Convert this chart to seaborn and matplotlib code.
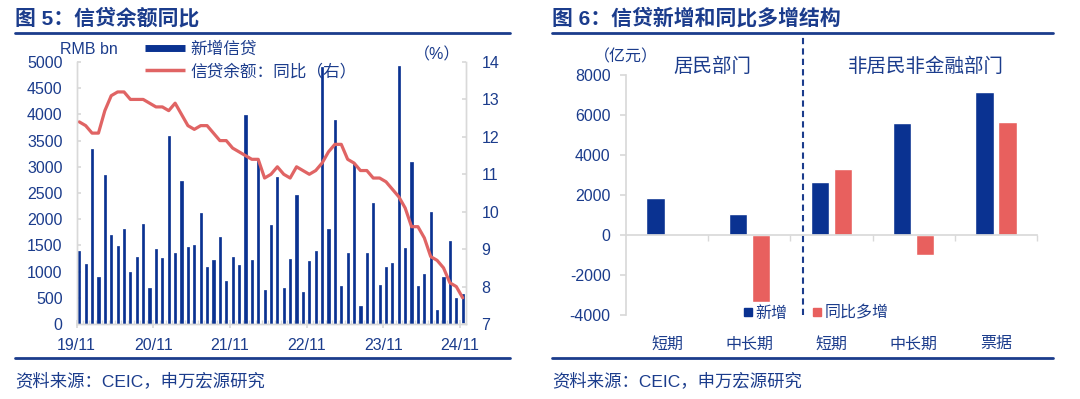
import numpy as np
import pandas as pd
import seaborn as sns
import matplotlib.pyplot as plt
from matplotlib.lines import Line2D

# style first, fonts after (set_theme resets font.family)
sns.set_theme(style="white")
plt.rcParams['font.family'] = ['Liberation Sans', 'Noto Sans CJK SC']
plt.rcParams['axes.unicode_minus'] = False

NAVY = '#0A3291'
RED = '#E8605E'
LINE_RED = '#E06464'
TXT = '#1B3C8C'
GREY = '#D9D9D9'

# ======================
# data - fig 5: monthly new loans (RMB bn) and loan balance yoy (%), 19/11 - 24/11

new_loans = [1390, 1140,
             3340, 905, 2850, 1700, 1480, 1810, 992, 1280, 1900, 689, 1430, 1260,
             3580, 1360, 2730, 1470, 1500, 2120, 1080, 1220, 1660, 826, 1270, 1130,
             3980, 1230, 3130, 645, 1890, 2810, 679, 1250, 2470, 615, 1210, 1400,
             4900, 1810, 3890, 719, 1360, 3050, 346, 1360, 2310, 738, 1090, 1170,
             4920, 1450, 3090, 730, 950, 2130, 260, 900, 1590, 500, 580]

loan_growth = [12.4, 12.3,
               12.1, 12.1, 12.7, 13.1, 13.2, 13.2, 13.0, 13.0, 13.0, 12.9, 12.8, 12.8,
               12.7, 12.9, 12.6, 12.3, 12.2, 12.3, 12.3, 12.1, 11.9, 11.9, 11.7, 11.6,
               11.5, 11.4, 11.4, 10.9, 11.0, 11.2, 11.0, 10.9, 11.2, 11.1, 11.0, 11.1,
               11.3, 11.6, 11.8, 11.8, 11.4, 11.3, 11.1, 11.1, 10.9, 10.9, 10.8, 10.6,
               10.4, 10.1, 9.6, 9.6, 9.3, 8.8, 8.7, 8.5, 8.1, 8.0, 7.7]

year_labels = ['19/11', '20/11', '21/11', '22/11', '23/11', '24/11']

# data - fig 6: new loans and yoy change by sector (100mn yuan)
sectors = ['居民部门', '居民部门', '非居民非金融部门', '非居民非金融部门', '非居民非金融部门']
loan_types = ['短期', '中长期', '短期', '中长期', '票据']
new_add = [1850, 1030, 2650, 5580, 7150]
yoy_more = [np.nan, -3350, 3300, -1000, 5630]
series_names = ['新增', '同比多增']

# ======================
W, H = 1080, 399
fig = plt.figure(figsize=(W / 100, H / 100), dpi=100)
fig.patch.set_facecolor('white')


def px_rect(x0, x1, ytop, ybot):
    return [x0 / W, 1 - ybot / H, (x1 - x0) / W, (ybot - ytop) / H]


def fx(x):
    return x / W


def fy(y):
    return 1 - y / H


# --- left chart
df5 = pd.DataFrame({'m': np.arange(len(new_loans)), 'loans': new_loans,
                    'growth': loan_growth})

ax1 = fig.add_axes(px_rect(76.6, 466, 62, 324))
sns.barplot(data=df5, x='m', y='loans', native_scale=True, width=0.34,
            color=NAVY, saturation=1, errorbar=None, edgecolor=NAVY,
            linewidth=0.5, ax=ax1)
ax1.set_xlim(-0.42, 60.52)
ax1.set_ylim(0, 5000)
ax1.set_yticks(range(0, 5001, 500))
ax1.set_xticks(np.arange(0, 61, 12) - 0.42, labels=year_labels)
ax1.set_xticks(np.arange(0, 61) - 0.42, minor=True)
ax1.set_xlabel('')
ax1.set_ylabel('')
ax1.tick_params(axis='y', left=True, direction='in', length=3, color=GREY,
                labelcolor=TXT, labelsize=11.5, pad=10)
ax1.tick_params(axis='x', which='major', bottom=True, direction='inout', length=6,
                color=GREY, labelcolor=TXT, labelsize=11.5, pad=7)
ax1.tick_params(axis='x', which='minor', bottom=True, direction='in', length=3,
                color=GREY)

ax2 = ax1.twinx()
sns.lineplot(data=df5, x='m', y='growth', color=LINE_RED, lw=2.3, ax=ax2)
ax2.set_ylim(7, 14)
ax2.set_yticks(range(7, 15))
ax2.set_ylabel('')
ax2.tick_params(axis='y', right=True, direction='in', length=3, color=GREY,
                labelcolor=TXT, labelsize=11.5, pad=11)

for a in (ax1, ax2):
    a.spines['top'].set_visible(False)
    for s in ('left', 'right', 'bottom'):
        a.spines[s].set_color(GREY)
        a.spines[s].set_linewidth(1)

fig.text(fx(60), fy(50), 'RMB bn', color=TXT, fontsize=11.5, va='center')
fig.text(fx(437), fy(55), '（%）', color=TXT, fontsize=11.5, va='center', ha='center')

fig.legend(handles=[Line2D([], [], color=NAVY, lw=5, solid_capstyle='butt'),
                    Line2D([], [], color=LINE_RED, lw=2.5, solid_capstyle='butt')],
           labels=['新增信贷', '信贷余额：同比（右）'],
           loc='upper left', bbox_to_anchor=(fx(145), fy(41)), frameon=False,
           fontsize=12, handlelength=2.4, handletextpad=0.3, labelspacing=0.4,
           borderpad=0, borderaxespad=0, labelcolor=TXT)

# --- right chart
keys = [s + t for s, t in zip(sectors, loan_types)]
df6 = pd.DataFrame({'key': keys * 2,
                    'series': [series_names[0]] * 5 + [series_names[1]] * 5,
                    'value': new_add + yoy_more}).dropna()

ax3 = fig.add_axes(px_rect(626, 1037, 75, 315))
sns.barplot(data=df6, x='key', y='value', hue='series', order=keys,
            hue_order=series_names, palette=[NAVY, RED], width=0.56, gap=0.2,
            saturation=1, errorbar=None, legend=False, ax=ax3)
ax3.set_xlim(-0.5, 4.5)
ax3.set_ylim(-4000, 8000)
ax3.set_yticks(range(-4000, 8001, 2000))
ax3.set_xticks(range(len(keys)), labels=loan_types)
ax3.set_xticks(np.arange(0.5, 5, 1), minor=True)
ax3.set_xlabel('')
ax3.set_ylabel('')
for s in ('top', 'right'):
    ax3.spines[s].set_visible(False)
ax3.spines['left'].set_color(GREY)
ax3.spines['bottom'].set_color(GREY)
ax3.spines['bottom'].set_position(('data', 0))
ax3.tick_params(axis='y', left=True, direction='out', length=4, color=GREY,
                labelcolor=TXT, labelsize=11.5, pad=7)
ax3.tick_params(axis='x', which='major', bottom=True, length=0,
                labelcolor=TXT, labelsize=11.5, pad=73)
ax3.tick_params(axis='x', which='minor', bottom=True, direction='out', length=4,
                color=GREY)

# separator between household and corporate groups
ax3.axvline(1.65, ymin=0, ymax=(315 - 35) / 240, color=TXT, lw=1.5,
            ls=(0, (3, 2)), clip_on=False)
ax3.text(0.55, 8420, '居民部门', color=TXT, fontsize=14, ha='center', va='center')
ax3.text(3.15, 8420, '非居民非金融部门', color=TXT, fontsize=14, ha='center', va='center')
ax3.text(0.0, 8900, '（亿元）', color=TXT, fontsize=11.5, ha='center', va='center',
         transform=ax3.get_yaxis_transform())

fig.legend(handles=[Line2D([], [], color=NAVY, marker='s', ls='none', markersize=6),
                    Line2D([], [], color=RED, marker='s', ls='none', markersize=6)],
           labels=series_names, loc='center left', bbox_to_anchor=(fx(743), fy(313)),
           ncol=2, frameon=False, fontsize=11.5, handlelength=0.6,
           handletextpad=0.15, columnspacing=1.6, borderpad=0, borderaxespad=0,
           labelcolor=TXT)

# --- titles, rules and sources
for x0, x1, title in [(15, 510, '图 5：信贷余额同比'),
                      (552, 1053, '图 6：信贷新增和同比多增结构')]:
    fig.text(fx(x0), fy(18), title, color=TXT, fontsize=15, fontweight='bold',
             va='center', ha='left')
    fig.add_artist(Line2D([fx(x0), fx(x1)], [fy(33), fy(33)], color=TXT, lw=2))
    fig.add_artist(Line2D([fx(x0), fx(x1)], [fy(358), fy(358)], color=TXT, lw=2))
    fig.text(fx(x0), fy(381), '资料来源：CEIC，申万宏源研究', color=TXT,
             fontsize=12.5, va='center', ha='left')

fig.savefig('out.png', dpi=100, facecolor='white')
plt.close(fig)
